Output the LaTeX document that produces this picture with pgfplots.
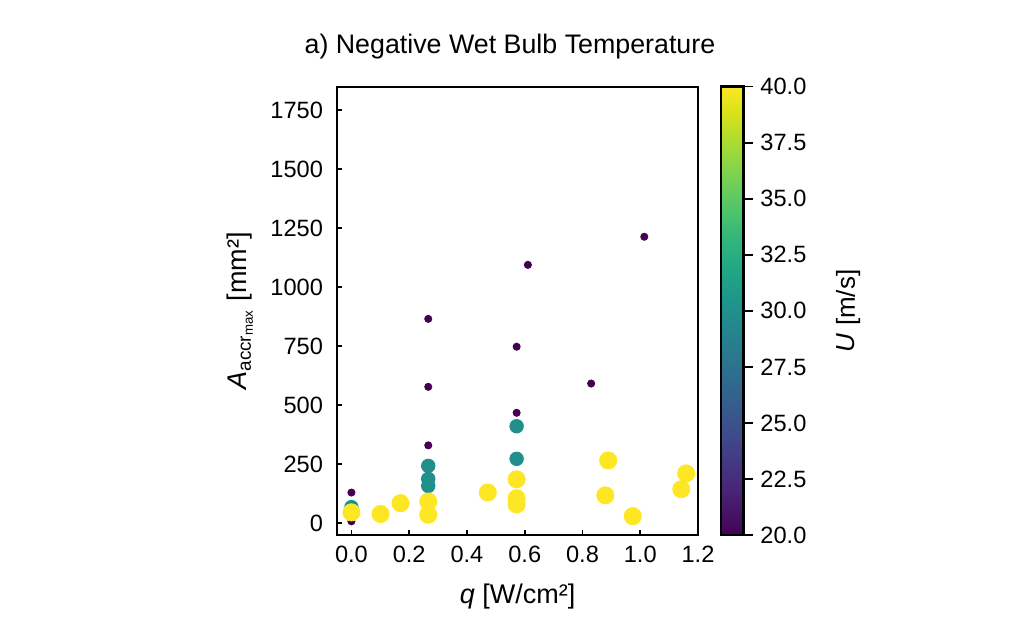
\documentclass[border=0pt]{standalone}
\usepackage{pgfplots}
\pgfplotsset{compat=1.18}
\usepackage{fontspec}
\setmainfont{Liberation Sans}

% U = 20 m/s
\pgfplotstableread{
q     A     U
0.000 130   20
0.000 8     20
0.266 866   20
0.266 578   20
0.266 330   20
0.572 748   20
0.572 468   20
0.611 1095  20
0.830 592   20
1.014 1214  20
}\lowU
% U = 30 m/s
\pgfplotstableread{
q     A     U
0.000 68    30
0.266 243   30
0.266 188   30
0.266 158   30
0.572 411   30
0.572 273   30
}\midU
% U = 40 m/s
\pgfplotstableread{
q     A     U
0.000 46    40
0.101 39    40
0.170 85    40
0.266 92    40
0.266 36    40
0.472 130   40
0.572 186   40
0.572 106   40
0.572 80    40
0.889 266   40
0.879 118   40
0.974 30    40
1.159 211   40
1.142 144   40
}\highU

\begin{document}
\begin{tikzpicture}
\useasboundingbox (-168.5pt,-51.5pt) rectangle (341.5pt,267.5pt);
\begin{axis}[
    at={(0,0)}, anchor=south west,
    scale only axis,
    width=180.5pt, height=224.15pt,
    xmin=-0.05, xmax=1.2,
    ymin=-50, ymax=1850,
    axis line style={line width=1.2pt},
    every tick/.style={black, line width=0.8pt},
    major tick length=2.5pt,
    tick align=inside,
    xtick pos=bottom, ytick pos=left,
    xtick={0,0.2,0.4,0.6,0.8,1.0,1.2},
    ytick={0,250,500,750,1000,1250,1500,1750},
    scaled ticks=false,
    xticklabel style={/pgf/number format/fixed, /pgf/number format/fixed zerofill,
        /pgf/number format/precision=1, yshift=-2pt},
    yticklabel style={/pgf/number format/fixed, /pgf/number format/precision=0,
        /pgf/number format/1000 sep={}, xshift=-3.5pt},
    /pgf/number format/assume math mode=true,
    tick label style={font=\fontsize{11.8}{14}\selectfont},
    xlabel={\textit{q} [W/cm²]},
    ylabel={\textit{A}\textsubscript{accr\textsubscript{max}} [mm²]},
    every axis x label/.style={at={(axis description cs:0.5,-0.138)}, anchor=center,
        font=\fontsize{13.5}{16}\selectfont},
    every axis y label/.style={at={(axis description cs:-0.269,0.5)}, rotate=90, anchor=center,
        font=\fontsize{13.5}{16}\selectfont},
    title={a) Negative Wet Bulb Temperature},
    every axis title/.style={at={(axis description cs:0.479,1.0886)}, anchor=center,
        font=\fontsize{13.4}{16}\selectfont},
    colormap/viridis,
    point meta min=20, point meta max=40,
    colorbar,
    colorbar style={
        at={(parent axis.north east)}, anchor=north west, xshift=2.85pt,
        width=11.3pt, height=224.15pt,
        ytick={20,22.5,25,27.5,30,32.5,35,37.5,40},
        yticklabel style={/pgf/number format/fixed, /pgf/number format/fixed zerofill,
            /pgf/number format/precision=1, /pgf/number format/assume math mode=true,
            font=\fontsize{11.8}{14}\selectfont},
        yticklabel pos=right, ytick pos=right,
        tick align=outside, major tick length=5pt,
        axis line style={line width=1.2pt},
        ylabel={\textit{U} [m/s]},
        every axis y label/.style={at={(axis description cs:5.63,0.5)}, rotate=90, anchor=center,
            font=\fontsize{13}{16}\selectfont},
    },
]
\addplot[scatter, only marks, mark=*, mark size=1.8pt,
    scatter/use mapped color={draw=mapped color, fill=mapped color},
    point meta=explicit] table[x=q, y=A, meta=U] {\lowU};
\addplot[scatter, only marks, mark=*, mark size=3.4pt,
    scatter/use mapped color={draw=mapped color, fill=mapped color},
    point meta=explicit] table[x=q, y=A, meta=U] {\midU};
\addplot[scatter, only marks, mark=*, mark size=4.3pt,
    scatter/use mapped color={draw=mapped color, fill=mapped color},
    point meta=explicit] table[x=q, y=A, meta=U] {\highU};
\end{axis}
\end{tikzpicture}
\end{document}
